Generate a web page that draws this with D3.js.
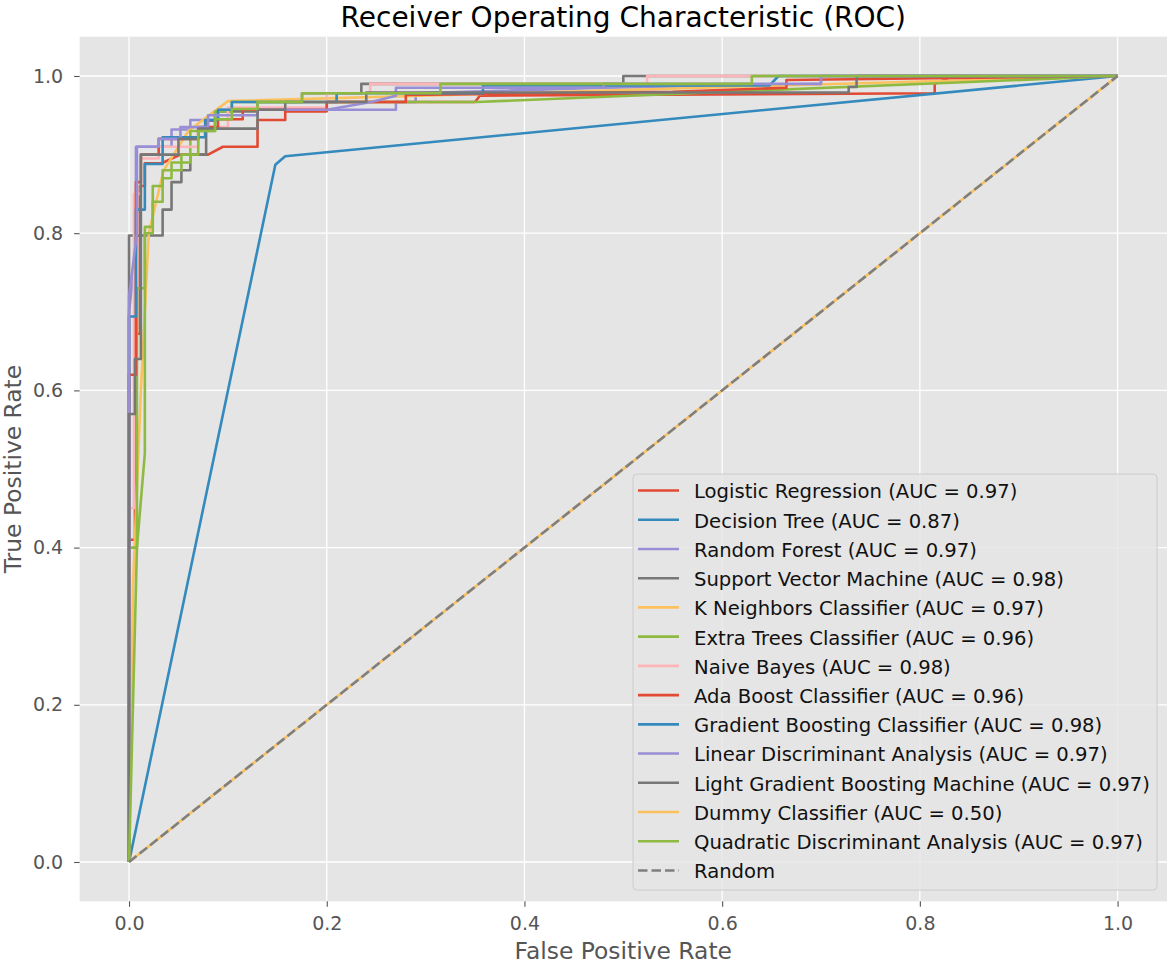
<!DOCTYPE html>
<html>
<head>
<meta charset="utf-8">
<script src="https://cdn.jsdelivr.net/npm/d3@7"></script>
<style>
  body { margin: 0; background: #fff; }
  text { font-family: "DejaVu Sans", sans-serif; }
</style>
</head>
<body>
<div id="wrapper"></div>
<script>
/* data: model names, AUC from the legend, ROC points [fpr, tpr] */
const modelNames = [
  "Logistic Regression", "Decision Tree", "Random Forest", "Support Vector Machine",
  "K Neighbors Classifier", "Extra Trees Classifier", "Naive Bayes", "Ada Boost Classifier",
  "Gradient Boosting Classifier", "Linear Discriminant Analysis",
  "Light Gradient Boosting Machine", "Dummy Classifier", "Quadratic Discriminant Analysis"
];
const aucValues = [0.97, 0.87, 0.97, 0.98, 0.97, 0.96, 0.98, 0.96, 0.98, 0.97, 0.97, 0.50, 0.97];

const logisticRoc = [[0,0],[0,0.41],[0.006,0.41],[0.006,0.672],[0.011,0.672],[0.011,0.86],[0.016,0.86],[0.016,0.889],[0.033,0.889],[0.052,0.9],[0.08,0.9],[0.095,0.91],[0.13,0.91],[0.13,0.944],[0.158,0.944],[0.158,0.955],[0.2,0.955],[0.2,0.967],[0.35,0.967],[0.355,0.975],[0.815,0.978],[0.815,0.99],[0.83,0.998],[1,1]];
const treeRoc = [[0,0],[0.148,0.887],[0.158,0.898],[1,1]];
const forestRoc = [[0,0],[0,0.7],[0.007,0.78],[0.007,0.91],[0.043,0.91],[0.043,0.932],[0.062,0.932],[0.062,0.944],[0.09,0.944],[0.09,0.957],[0.27,0.957],[0.27,0.967],[0.29,0.967],[0.29,0.978],[0.48,0.985],[0.7,0.99],[0.7,1],[1,1]];
const svmRoc = [[0,0],[0,0.797],[0.034,0.797],[0.034,0.83],[0.043,0.83],[0.043,0.865],[0.053,0.865],[0.053,0.88],[0.062,0.88],[0.062,0.9],[0.078,0.9],[0.078,0.943],[0.087,0.943],[0.087,0.955],[0.13,0.955],[0.13,0.967],[0.175,0.967],[0.175,0.978],[0.235,0.978],[0.235,0.99],[0.5,0.99],[0.5,1],[1,1]];
const knnRoc = [[0,0],[0.004,0.35],[0.012,0.6],[0.02,0.8],[0.035,0.88],[0.06,0.93],[0.1,0.968],[1,1]];
const extraRoc = [[0,0],[0,0.4],[0.008,0.4],[0.008,0.73],[0.016,0.73],[0.016,0.808],[0.024,0.808],[0.024,0.84],[0.034,0.84],[0.034,0.87],[0.043,0.87],[0.043,0.89],[0.062,0.89],[0.062,0.93],[0.087,0.93],[0.087,0.955],[0.104,0.955],[0.104,0.967],[0.352,0.967],[1,1]];
const bayesRoc = [[0,0],[0,0.45],[0.005,0.45],[0.005,0.85],[0.012,0.85],[0.012,0.895],[0.03,0.895],[0.03,0.91],[0.07,0.91],[0.07,0.935],[0.1,0.935],[0.1,0.96],[0.2,0.96],[0.2,0.978],[0.244,0.978],[0.244,0.99],[0.524,0.99],[0.524,1],[1,1]];
const adaRoc = [[0,0],[0,0.62],[0.007,0.62],[0.007,0.865],[0.012,0.865],[0.012,0.9],[0.03,0.9],[0.03,0.92],[0.07,0.92],[0.07,0.935],[0.09,0.935],[0.09,0.945],[0.115,0.945],[0.115,0.957],[0.2,0.957],[0.2,0.967],[0.28,0.967],[0.28,0.976],[0.55,0.98],[0.665,0.985],[0.665,0.995],[1,1]];
const boostRoc = [[0,0],[0,0.694],[0.007,0.694],[0.007,0.83],[0.016,0.83],[0.016,0.888],[0.034,0.888],[0.034,0.922],[0.077,0.922],[0.077,0.944],[0.09,0.944],[0.09,0.957],[0.104,0.957],[0.104,0.967],[0.21,0.967],[0.21,0.978],[0.358,0.978],[0.358,0.988],[0.648,0.988],[0.657,1],[1,1]];
const ldaRoc = [[0,0],[0,0.72],[0.008,0.8],[0.008,0.91],[0.03,0.91],[0.03,0.92],[0.052,0.92],[0.052,0.935],[0.08,0.935],[0.08,0.95],[0.13,0.95],[0.13,0.957],[0.2,0.957],[0.245,0.967],[0.27,0.975],[0.27,0.985],[0.48,0.985],[0.48,0.99],[0.7,0.99],[0.7,1],[1,1]];
const lgbmRoc = [[0,0],[0,0.57],[0.006,0.57],[0.006,0.64],[0.012,0.64],[0.012,0.9],[0.05,0.9],[0.05,0.92],[0.07,0.92],[0.07,0.933],[0.13,0.933],[0.13,0.957],[0.158,0.957],[0.158,0.967],[0.24,0.967],[0.24,0.979],[0.728,0.979],[0.728,0.986],[0.736,0.986],[0.736,1],[1,1]];
const dummyRoc = [[0,0],[1,1]];
const qdaRoc = [[0,0],[0.008,0.4],[0.016,0.52],[0.016,0.8],[0.024,0.8],[0.024,0.86],[0.034,0.86],[0.034,0.88],[0.053,0.88],[0.053,0.9],[0.07,0.9],[0.07,0.93],[0.087,0.93],[0.087,0.945],[0.104,0.945],[0.104,0.958],[0.13,0.958],[0.13,0.967],[0.175,0.967],[0.175,0.978],[0.315,0.978],[0.315,0.99],[0.63,0.99],[0.63,1],[1,1]];
const randomLine = [[0,0],[1,1]];

const tickValues = [0, 0.2, 0.4, 0.6, 0.8, 1.0];

const rocCurves = [logisticRoc, treeRoc, forestRoc, svmRoc, knnRoc, extraRoc, bayesRoc,
  adaRoc, boostRoc, ldaRoc, lgbmRoc, dummyRoc, qdaRoc];

// ggplot colour cycle
const colorCycle = ["#E24A33", "#348ABD", "#988ED5", "#777777", "#FBC15E", "#8EBA42", "#FFB5B8"];

/* canvas */
const width = 1170;
const height = 964;
const plotLeft = 79.6, plotRight = 1167, plotTop = 36.7, plotBottom = 901.3;

const svg = d3.select("#wrapper")
  .append("svg")
  .attr("width", width)
  .attr("height", height);

/* scales */
const xScale = d3.scaleLinear().domain([-0.05, 1.05]).range([plotLeft, plotRight]);
const yScale = d3.scaleLinear().domain([-0.05, 1.05]).range([plotBottom, plotTop]);

// grey panel
svg.append("rect")
  .attr("x", plotLeft).attr("y", plotTop)
  .attr("width", plotRight - plotLeft).attr("height", plotBottom - plotTop)
  .attr("fill", "#E5E5E5");

// white grid
svg.append("g").selectAll("line")
  .data(tickValues).enter().append("line")
  .attr("x1", d => xScale(d)).attr("x2", d => xScale(d))
  .attr("y1", plotTop).attr("y2", plotBottom)
  .attr("stroke", "#fff").attr("stroke-width", 1.3);
svg.append("g").selectAll("line")
  .data(tickValues).enter().append("line")
  .attr("y1", d => yScale(d)).attr("y2", d => yScale(d))
  .attr("x1", plotLeft).attr("x2", plotRight)
  .attr("stroke", "#fff").attr("stroke-width", 1.3);

/* axes */
const fmt = d3.format(".1f");
const xAxis = svg.append("g")
  .attr("transform", `translate(0,${plotBottom})`)
  .call(d3.axisBottom(xScale).tickValues(tickValues).tickFormat(fmt).tickSize(5.5).tickPadding(10));
const yAxis = svg.append("g")
  .attr("transform", `translate(${plotLeft},0)`)
  .call(d3.axisLeft(yScale).tickValues(tickValues).tickFormat(fmt).tickSize(5.5).tickPadding(11));

[xAxis, yAxis].forEach(function (ax) {
  ax.select(".domain").remove();
  ax.selectAll(".tick line").attr("stroke", "#555").attr("stroke-width", 1.1);
  ax.selectAll(".tick text")
    .attr("fill", "#555")
    .style("font-family", "DejaVu Sans")
    .style("font-size", "19px");
});

/* curves */
const line = d3.line()
  .x(d => xScale(d[0]))
  .y(d => yScale(d[1]));

svg.append("g").selectAll("path")
  .data(rocCurves).enter().append("path")
  .attr("d", line)
  .attr("fill", "none")
  .attr("stroke", (d, i) => colorCycle[i % colorCycle.length])
  .attr("stroke-width", 2.6)
  .attr("stroke-linejoin", "round");

svg.append("path")
  .datum(randomLine)
  .attr("d", line)
  .attr("fill", "none")
  .attr("stroke", "#7f7f7f")
  .attr("stroke-width", 2.6)
  .attr("stroke-dasharray", "9.5,4");

/* legend */
const legendX = 633, legendY = 474, legendW = 524, legendH = 416;
const rowStart = 491.5, rowStep = 29.23;
const legendItems = modelNames.map((name, i) => ({
  label: `${name} (AUC = ${aucValues[i].toFixed(2)})`,
  color: colorCycle[i % colorCycle.length],
  dash: null
}));
legendItems.push({ label: "Random", color: "#7f7f7f", dash: "9.5,4" });

const legend = svg.append("g");
legend.append("rect")
  .attr("x", legendX).attr("y", legendY)
  .attr("width", legendW).attr("height", legendH)
  .attr("rx", 4)
  .attr("fill", "#E5E5E5").attr("fill-opacity", 0.8)
  .attr("stroke", "#CCCCCC").attr("stroke-width", 1);

const rows = legend.selectAll(".row")
  .data(legendItems).enter().append("g")
  .attr("class", "row")
  .attr("transform", (d, i) => `translate(0,${rowStart + i * rowStep})`);

rows.append("line")
  .attr("x1", 638).attr("x2", 679)
  .attr("y1", -1).attr("y2", -1)
  .attr("stroke", d => d.color)
  .attr("stroke-width", 2.6)
  .attr("stroke-dasharray", d => d.dash);

rows.append("text")
  .attr("x", 694)
  .attr("y", 0)
  .attr("dy", "0.35em")
  .attr("fill", "#111")
  .style("font-size", "19.6px")
  .text(d => d.label);

/* title and axis labels */
svg.append("text")
  .attr("x", (plotLeft + plotRight) / 2)
  .attr("y", 27)
  .attr("text-anchor", "middle")
  .attr("fill", "#000")
  .style("font-size", "28px")
  .text("Receiver Operating Characteristic (ROC)");

svg.append("text")
  .attr("x", (plotLeft + plotRight) / 2)
  .attr("y", 959)
  .attr("text-anchor", "middle")
  .attr("fill", "#555")
  .style("font-size", "23.4px")
  .text("False Positive Rate");

svg.append("text")
  .attr("transform", `translate(21,${(plotTop + plotBottom) / 2}) rotate(-90)`)
  .attr("text-anchor", "middle")
  .attr("fill", "#555")
  .style("font-size", "23.4px")
  .text("True Positive Rate");
</script>
</body>
</html>
